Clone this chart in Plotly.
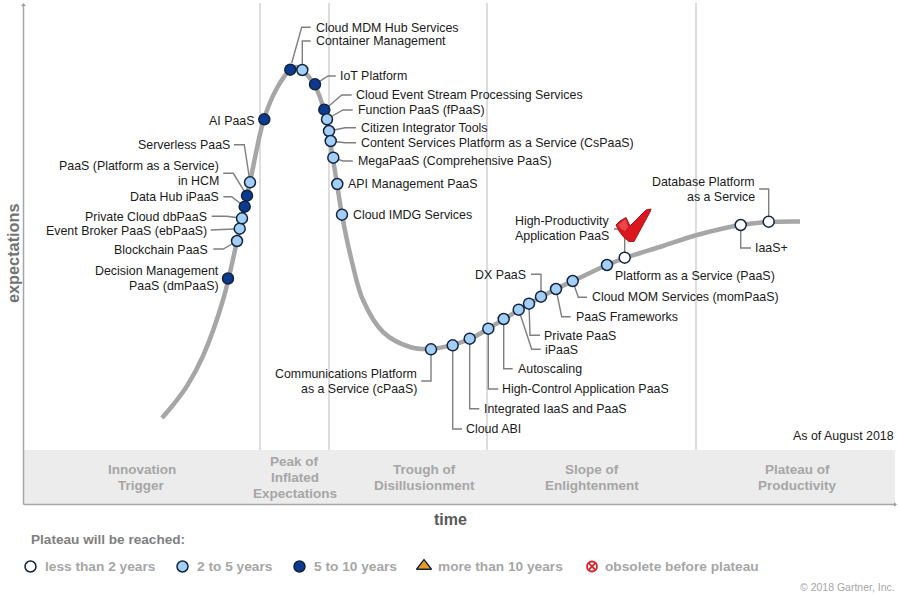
import plotly.graph_objects as go

FONT = "Liberation Sans, Arial, sans-serif"
LIGHT, DARK, WHITE = "#a3cff7", "#0c3a8e", "#ffffff"
EDGE = "#12233f"

# Hype curve
curve_x = [162,173,187,203,223,237,250,264,277,290,296,302,315,324,330,337,342,352,363,383,410,431,452,470,488,504,529,556,573,607,625,663,697,741,769,800]
curve_y = [418,405,386,356,300,241,182,119,88,70,67,70,86,110,141,184,215,262,300,332,347,349,345,339,329,319,304,289,281,265,258,246,235,225,222,221.5]

# Technologies
tech_names = ["Decision Management PaaS","Blockchain PaaS","Event Broker PaaS","Private Cloud dbPaaS","Data Hub iPaaS","PaaS in HCM","Serverless PaaS","AI PaaS","Cloud MDM Hub Services","Container Management","IoT Platform","Cloud Event Stream Processing Services","Function PaaS","Citizen Integrator Tools","CsPaaS","MegaPaaS","API Management PaaS","Cloud IMDG Services","cPaaS","Cloud ABI","Integrated IaaS and PaaS","High-Control Application PaaS","Autoscaling","iPaaS","Private PaaS","DX PaaS","PaaS Frameworks","Cloud MOM Services","Platform as a Service","High-Productivity Application PaaS","IaaS+","Database Platform as a Service"]
tech_x = [228,237,239.7,242,244.7,247,250,264.3,290.3,302.3,315,324.3,327,329,330.7,333.3,337.3,342,431,452.7,469.7,488.3,503.7,518.7,529,541,556,572.7,607,624.7,740.7,768.7]
tech_y = [278.5,241,228.7,218.3,206.7,195.7,182.3,119.3,69.7,70,84.3,109.7,119.3,131,141,157.7,184,214.7,349.3,345.3,338.7,328.7,319,309.7,303.7,296.7,289,281,265,257.7,225,221.7]
tech_colors = [DARK,LIGHT,LIGHT,LIGHT,DARK,DARK,LIGHT,DARK,DARK,LIGHT,DARK,DARK,LIGHT,LIGHT,LIGHT,LIGHT,LIGHT,LIGHT,LIGHT,LIGHT,LIGHT,LIGHT,LIGHT,LIGHT,LIGHT,LIGHT,LIGHT,LIGHT,LIGHT,WHITE,WHITE,WHITE]

# Leader lines
leaders = [
    ([291.7,301.7,310.7],[63,27.3,27.3]), ([302.3,302.3,310.7],[70,41,41]),
    ([315,328,335.7],[84.3,76,76]), ([324.3,341.7,351.7],[110,95,95]),
    ([327,343,352.7],[119,110,110]), ([329,345,356],[131,127.7,127.7]),
    ([330.7,345,356],[141,142.7,142.7]), ([333.3,343,352.7],[157.7,161,161]),
    ([234,244.3,250],[144.7,144.7,182]), ([223.3,233.3,247],[173.3,173.3,195.7]),
    ([223.3,231.7,244.7],[196.7,196.7,206.7]), ([211.7,226.7,242],[216.3,216.3,218.3]),
    ([210.7,239.7],[230,228.7]), ([213.3,223.3,237],[249,249,241]),
    ([431,431,421.3],[349,381,381]), ([452.7,452.7,462],[345,429,429]),
    ([469.7,469.7,479.3],[339,408.7,408.7]), ([488.3,488.3,498.3],[329,389,389]),
    ([503.7,503.7,512.7],[319,368.7,368.7]), ([518.7,531.7,540.7],[309.7,349.3,349.3]),
    ([529,530,540],[303.7,335.3,335.3]), ([531,541,541],[274.3,274.3,296.7]),
    ([556,561.7,570.7],[289,316.7,316.7]), ([572.7,578.3,587],[281,297.3,297.3]),
    ([614,624.7,624.7],[229,229,257.7]), ([740.7,740.7,751],[225,248,248]),
    ([759,768.7,768.7],[189,189,221.7]),
]

labels_left = [
    ("Cloud MDM Hub Services",316,27.5),("Container Management",316,41),("IoT Platform",340,76),
    ("Cloud Event Stream Processing Services",356,95),("Function PaaS (fPaaS)",357.5,110),
    ("Citizen Integrator Tools",360.5,128),("Content Services Platform as a Service (CsPaaS)",360.5,143),
    ("MegaPaaS (Comprehensive PaaS)",357.5,161),("API Management PaaS",348,184),("Cloud IMDG Services",353,215),
    ("Cloud ABI",466,429),("Integrated IaaS and PaaS",484,409),("High-Control Application PaaS",502,389),
    ("Autoscaling",517.5,369),("iPaaS",545,349.5),("Private PaaS",544,336),("PaaS Frameworks",575.5,316.5),
    ("Cloud MOM Services (momPaaS)",591.5,297),("Platform as a Service (PaaS)",614.5,276),("IaaS+",755,248),
]
labels_right = [
    ("AI PaaS",254,120.5),("Serverless PaaS",229.5,145),("PaaS (Platform as a Service)<br>in HCM",218.5,173.5),
    ("Data Hub iPaaS",218.5,197),("Private Cloud dbPaaS",206.5,216.5),("Event Broker PaaS (ebPaaS)",206.5,230.5),
    ("Blockchain PaaS",208,249.5),("Decision Management<br>PaaS (dmPaaS)",219,278),
    ("Communications Platform<br>as a Service (cPaaS)",417,381.5),("DX PaaS",525.5,275),
    ("High-Productivity<br>Application PaaS",609,228.5),("Database Platform<br>as a Service",754.5,189.5),
    ("As of August 2018",894,436),
]

phase_names = ["Innovation<br>Trigger","Peak of<br>Inflated<br>Expectations","Trough of<br>Disillusionment","Slope of<br>Enlightenment","Plateau of<br>Productivity"]
phase_x = [141.5,294.5,424,592,797]
phase_y = [477,477,477,477,477]
phase_lines_x = [260,329,487,696]

legend_names = ["less than 2 years","2 to 5 years","5 to 10 years","more than 10 years","obsolete before plateau"]
legend_mark_x = [30.5,182.5,299.5,424,592]
legend_text_x = [44.5,196.5,313.5,438,605]

check_x = [616,620,626,630,646,651,650,644,634,629,624,619,616]
check_y = [225,221,217.5,226,210,209,212,223,241.5,241.5,237.5,231,225]
check_hi_x = [618,622,625.5,628,625,621]
check_hi_y = [225,221.5,219,227,231,229]

fig = go.Figure()

for vx in phase_lines_x:
    fig.add_trace(go.Scatter(x=[vx,vx],y=[3,450],mode="lines",line=dict(color="#d2d2d2",width=1.5),hoverinfo="skip"))

fig.add_trace(go.Scatter(x=curve_x,y=curve_y,mode="lines",line=dict(color="#a6a6a6",width=4.5,shape="spline",smoothing=1.0),hoverinfo="skip"))

for lx,ly in leaders:
    fig.add_trace(go.Scatter(x=lx,y=ly,mode="lines",line=dict(color="#7f7f7f",width=1.4),hoverinfo="skip"))

fig.add_trace(go.Scatter(x=check_x,y=check_y,mode="lines",fill="toself",fillcolor="#d8171f",line=dict(color="#b01218",width=1),hoverinfo="skip"))
fig.add_trace(go.Scatter(x=check_hi_x,y=check_hi_y,mode="lines",fill="toself",fillcolor="#e8484c",line=dict(width=0),hoverinfo="skip"))

fig.add_trace(go.Scatter(x=tech_x,y=tech_y,mode="markers",text=tech_names,hoverinfo="text",
    marker=dict(size=11,color=tech_colors,line=dict(color=EDGE,width=1.5))))

# Legend marks
lm_y = [566.5]*5
fig.add_trace(go.Scatter(x=legend_mark_x[:3],y=lm_y[:3],mode="markers",hoverinfo="skip",
    marker=dict(size=11,color=[WHITE,LIGHT,DARK],line=dict(color=EDGE,width=1.5))))
fig.add_trace(go.Scatter(x=[legend_mark_x[3]],y=[lm_y[3]-0.5],mode="markers",hoverinfo="skip",
    marker=dict(size=13,symbol="triangle-up",color="#ea9a1f",line=dict(color=EDGE,width=1.3))))
fig.add_trace(go.Scatter(x=[legend_mark_x[4]],y=[lm_y[4]],mode="markers",hoverinfo="skip",
    marker=dict(size=10,symbol="circle-x-open",color="#d8232a",line=dict(color="#d8232a",width=1.8))))

# Axis arrow heads
fig.add_trace(go.Scatter(x=[23.5],y=[5],mode="markers",hoverinfo="skip",marker=dict(size=4,symbol="triangle-up",color="#999999")))
fig.add_trace(go.Scatter(x=[895],y=[504.5],mode="markers",hoverinfo="skip",marker=dict(size=4,symbol="triangle-right",color="#999999")))

shapes = [
    dict(type="rect",x0=24,x1=895,y0=450,y1=504,fillcolor="#ececec",line=dict(width=0),layer="below"),
    dict(type="line",x0=23.5,x1=23.5,y0=5,y1=504.5,line=dict(color="#a6a6a6",width=1.5),layer="below"),
    dict(type="line",x0=23.5,x1=895,y0=504.5,y1=504.5,line=dict(color="#a6a6a6",width=1.5),layer="below"),
]

ann = []
def text(t,x,y,anchor,size,color,bold=False,angle=0,gap=15):
    parts = t.split("<br>")
    y0 = y-(len(parts)-1)*gap/2
    for i,p in enumerate(parts):
        ann.append(dict(x=x,y=y0+i*gap,xref="x",yref="y",text=f"<b>{p}</b>" if bold else p,showarrow=False,xanchor=anchor,yanchor="middle",
            align=anchor,textangle=angle,font=dict(family=FONT,size=size,color=color),borderpad=0,borderwidth=0))

for t,x,y in labels_left:
    text(t,x,y,"left",12.4,"#1a1a1a")
for t,x,y in labels_right:
    text(t,x,y,"right",12.4,"#1a1a1a")
for t,x,y in zip(phase_names,phase_x,phase_y):
    text(t,x,y+0.5,"center",13.5,"#a6a6a6",bold=True,gap=16.4)
text("time",450,519,"center",16,"#595959",bold=True)
text("expectations",12.5,253.5,"center",16.3,"#737373",bold=True,angle=-90)
text("Plateau will be reached:",30.5,539,"left",13.6,"#7f7f7f",bold=True)
for t,x in zip(legend_names,legend_text_x):
    text(t,x,566.5,"left",13.7,"#a6a6a6",bold=True)
text("© 2018 Gartner, Inc.",895,587,"right",10.5,"#a6a6a6")

fig.update_layout(
    width=898,height=594,autosize=False,showlegend=False,
    margin=dict(l=0,r=0,t=0,b=0),
    paper_bgcolor="white",plot_bgcolor="white",
    xaxis=dict(range=[0,898],visible=False,fixedrange=True),
    yaxis=dict(range=[594,0],visible=False,fixedrange=True),
    shapes=shapes,annotations=ann,
)
fig.write_html("out.html",config={"displayModeBar":False},
    post_script="document.body.style.margin='0';document.documentElement.style.overflow='hidden';")
